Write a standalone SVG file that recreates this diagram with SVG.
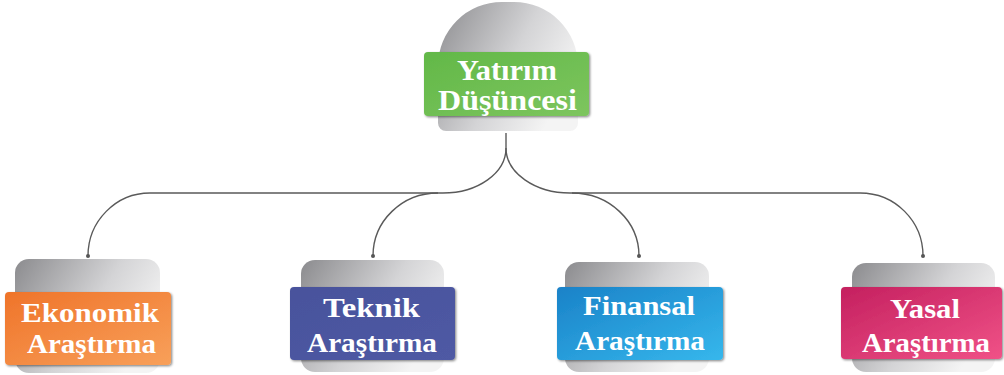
<svg xmlns="http://www.w3.org/2000/svg" width="1004" height="375" viewBox="0 0 1004 375">
<defs>
<linearGradient id="gray" x1="0" y1="0" x2="1" y2="0.5"><stop offset="0" stop-color="#8b8b8e"/><stop offset="0.6" stop-color="#d4d4d6"/><stop offset="1" stop-color="#f4f4f4"/></linearGradient>
<linearGradient id="green" x1="0" y1="0" x2="1" y2="1"><stop offset="0" stop-color="#62b848"/><stop offset="1" stop-color="#7dc55e"/></linearGradient>
<linearGradient id="orange" x1="0" y1="0" x2="1" y2="1"><stop offset="0" stop-color="#ef742a"/><stop offset="1" stop-color="#f8a05a"/></linearGradient>
<linearGradient id="blue" x1="0" y1="0" x2="1" y2="1"><stop offset="0" stop-color="#48529c"/><stop offset="1" stop-color="#4f5aa4"/></linearGradient>
<linearGradient id="cyan" x1="0" y1="0" x2="1" y2="1"><stop offset="0" stop-color="#1a82c8"/><stop offset="1" stop-color="#36b7ec"/></linearGradient>
<linearGradient id="pink" x1="0" y1="0" x2="1" y2="1"><stop offset="0" stop-color="#c4205f"/><stop offset="1" stop-color="#f05287"/></linearGradient>
<filter id="sh" x="-5%" y="-5%" width="115%" height="120%"><feDropShadow dx="1.2" dy="1.2" stdDeviation="0.8" flood-color="#000" flood-opacity="0.45"/></filter>
<marker id="dot" viewBox="0 0 6 6" refX="3" refY="3" markerWidth="4" markerHeight="4" markerUnits="userSpaceOnUse"><circle cx="3" cy="3" r="3" fill="#555"/></marker>
</defs>
<style>
.back{fill:url(#gray)}
.lbl{font-family:"Liberation Serif","Times New Roman",serif;font-weight:bold;fill:#fff;text-anchor:middle}
.conn{fill:none;stroke:#5a5a5a;stroke-width:1.4}
</style>
<g id="connectors">
<path class="conn" d="M506,133 V148"/>
<path class="conn" marker-end="url(#dot)" d="M506,148 C506,173 478,193 443,193 H150 C116,193 88,221 88,256"/>
<path class="conn" marker-end="url(#dot)" d="M438,193 C402,193 373,221 373,256"/>
<path class="conn" marker-end="url(#dot)" d="M506,148 C506,173 535,193 570,193 H860 C895,193 923,221 923,256"/>
<path class="conn" marker-end="url(#dot)" d="M572,193 C609,193 639,221 639,256"/>
</g>
<g id="node-root">
<path class="back" d="M438,131 V66 A64,64 0 0 1 502,2 H514 A64,64 0 0 1 578,66 V123 A8,8 0 0 1 570,131 H446 A8,8 0 0 1 438,123 Z"/>
<rect x="424" y="52" width="165" height="64" rx="4" fill="url(#green)" filter="url(#sh)"/>
<text class="lbl" x="507" y="80" font-size="29" textLength="100" lengthAdjust="spacingAndGlyphs">Yatırım</text>
<text class="lbl" x="507.5" y="110" font-size="29" textLength="139" lengthAdjust="spacingAndGlyphs">Düşüncesi</text>
</g>
<g id="node-ekonomik">
<rect class="back" x="15" y="259" width="145" height="114" rx="14"/>
<rect x="5" y="292" width="166" height="73" rx="4" fill="url(#orange)" filter="url(#sh)"/>
<text class="lbl" x="90" y="322" font-size="27" textLength="138" lengthAdjust="spacingAndGlyphs">Ekonomik</text>
<text class="lbl" x="91.5" y="353" font-size="27" textLength="129" lengthAdjust="spacingAndGlyphs">Araştırma</text>
</g>
<g id="node-teknik">
<rect class="back" x="301" y="260" width="143" height="112" rx="14"/>
<rect x="290" y="287" width="165" height="73" rx="4" fill="url(#blue)" filter="url(#sh)"/>
<text class="lbl" x="371.5" y="317" font-size="27" textLength="97" lengthAdjust="spacingAndGlyphs">Teknik</text>
<text class="lbl" x="372" y="352" font-size="27" textLength="130" lengthAdjust="spacingAndGlyphs">Araştırma</text>
</g>
<g id="node-finansal">
<rect class="back" x="565" y="262" width="144" height="110" rx="14"/>
<rect x="557" y="287" width="166" height="73" rx="4" fill="url(#cyan)" filter="url(#sh)"/>
<text class="lbl" x="639" y="315" font-size="27" textLength="112" lengthAdjust="spacingAndGlyphs">Finansal</text>
<text class="lbl" x="640" y="350" font-size="27" textLength="130" lengthAdjust="spacingAndGlyphs">Araştırma</text>
</g>
<g id="node-yasal">
<rect class="back" x="852" y="263" width="143" height="109" rx="14"/>
<rect x="841" y="287" width="161" height="72" rx="4" fill="url(#pink)" filter="url(#sh)"/>
<text class="lbl" x="925" y="318" font-size="27" textLength="70" lengthAdjust="spacingAndGlyphs">Yasal</text>
<text class="lbl" x="926" y="352" font-size="27" textLength="128" lengthAdjust="spacingAndGlyphs">Araştırma</text>
</g>
</svg>
